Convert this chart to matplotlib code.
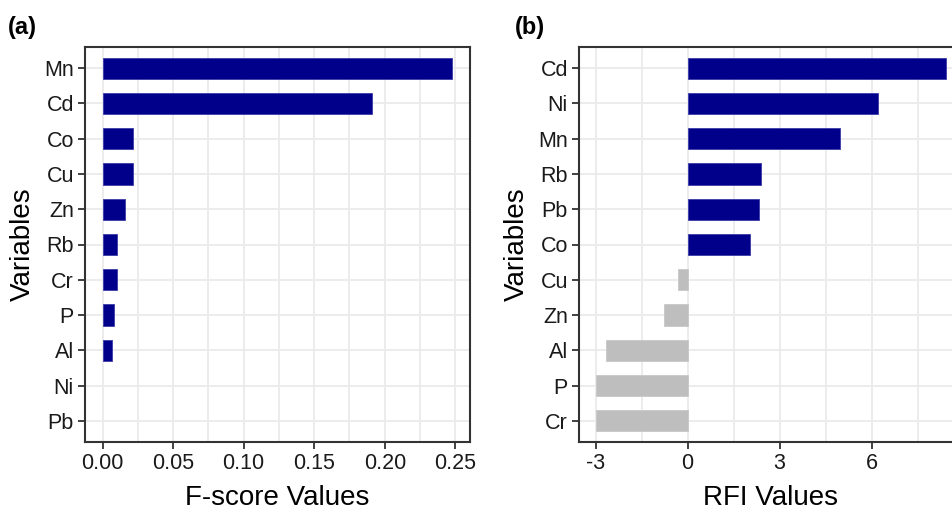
import matplotlib
matplotlib.use("Agg")
import matplotlib.pyplot as plt
from matplotlib.ticker import MultipleLocator

plt.rcParams["font.family"] = ["Liberation Sans", "DejaVu Sans"]

# Panel (a): F-score per variable, top to bottom
fscore_vars = ["Mn", "Cd", "Co", "Cu", "Zn", "Rb", "Cr", "P", "Al", "Ni", "Pb"]
fscore_vals = [0.248, 0.191, 0.0217, 0.0217, 0.0161, 0.0106, 0.0106, 0.0078, 0.0064, 0.0, 0.0]

# Panel (b): RFI per variable, top to bottom
rfi_vars = ["Cd", "Ni", "Mn", "Rb", "Pb", "Co", "Cu", "Zn", "Al", "P", "Cr"]
rfi_vals = [8.41, 6.20, 4.98, 2.39, 2.32, 2.02, -0.32, -0.76, -2.65, -2.97, -2.97]

fscore_ticks = [0.00, 0.05, 0.10, 0.15, 0.20, 0.25]
fscore_ticklabels = ["0.00", "0.05", "0.10", "0.15", "0.20", "0.25"]
rfi_ticks = [-3, 0, 3, 6]
rfi_ticklabels = ["-3", "0", "3", "6"]

POS = "#00008B"
POS_EDGE = "#3a3aa8"
NEG = "#BEBEBE"
NEG_EDGE = "#c8c8c8"
GRID = "#EBEBEB"
SPINE = "#333333"
TXT = "#1A1A1A"

fig = plt.figure(figsize=(9.53, 5.14), dpi=100)
ax_a = fig.add_axes([85 / 953, 72 / 514, 385 / 953, 395 / 514])
ax_b = fig.add_axes([579 / 953, 72 / 514, 384 / 953, 395 / 514])


def style(ax, values, ticks, ticklabels, minor, xlabel):
    n = len(values)
    lo, hi = min(min(values), 0), max(max(values), 0)
    pad = 0.05 * (hi - lo)
    ax.set_xlim(lo - pad, hi + pad)
    ax.set_ylim(-0.6, n - 1 + 0.6)
    ax.set_xticks(ticks)
    ax.set_xticklabels(ticklabels)
    ax.xaxis.set_minor_locator(MultipleLocator(minor))
    ax.grid(True, which="major", color=GRID, linewidth=1.3, zorder=0)
    ax.grid(True, which="minor", axis="x", color=GRID, linewidth=1.3, zorder=0)
    ax.set_axisbelow(True)
    for s in ax.spines.values():
        s.set_color(SPINE)
        s.set_linewidth(1.5)
    ax.tick_params(axis="both", which="major", length=5, width=1.3, color=SPINE,
                   labelsize=15.5, labelcolor=TXT, pad=3)
    ax.tick_params(axis="x", which="minor", length=0)
    ax.set_xlabel(xlabel, fontsize=20, color="black", labelpad=8)
    ax.set_ylabel("Variables", fontsize=20, color="black", labelpad=6)


def edge_for(v):
    if v == 0:
        return "none"
    return POS_EDGE if v > 0 else NEG_EDGE


# Panel (a)
ya = list(range(len(fscore_vars)))[::-1]
ax_a.barh(ya, fscore_vals, height=0.6, color=POS,
          edgecolor=[edge_for(v) for v in fscore_vals], linewidth=0.6, zorder=2)
ax_a.set_yticks(ya)
ax_a.set_yticklabels(fscore_vars)
style(ax_a, fscore_vals, fscore_ticks, fscore_ticklabels, 0.025, "F-score Values")

# Panel (b)
yb = list(range(len(rfi_vars)))[::-1]
colors_b = [POS if v > 0 else NEG for v in rfi_vals]
ax_b.barh(yb, rfi_vals, height=0.6, color=colors_b,
          edgecolor=[edge_for(v) for v in rfi_vals], linewidth=0.6, zorder=2)
ax_b.set_yticks(yb)
ax_b.set_yticklabels(rfi_vars)
style(ax_b, rfi_vals, rfi_ticks, rfi_ticklabels, 1.5, "RFI Values")

fig.text(8 / 953, 1 - 34 / 514, "(a)", fontsize=17, fontweight="bold", ha="left", va="baseline")
fig.text(515 / 953, 1 - 34 / 514, "(b)", fontsize=17, fontweight="bold", ha="left", va="baseline")

fig.savefig("out.png", dpi=100)
